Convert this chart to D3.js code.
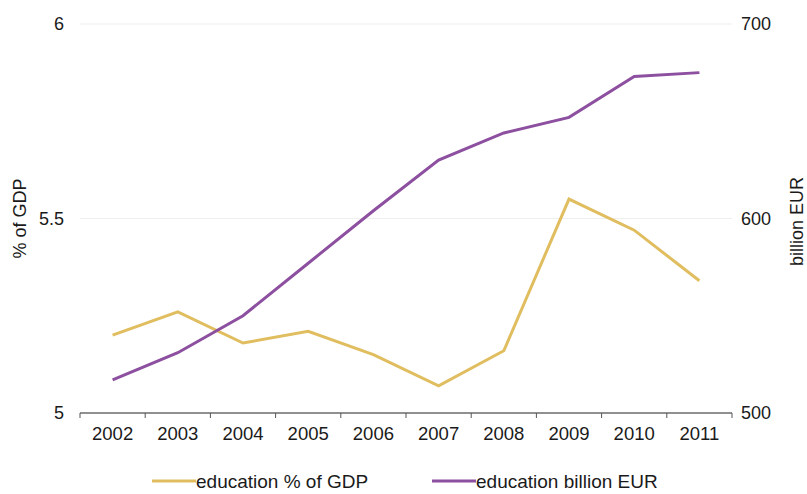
<!DOCTYPE html>
<html>
<head>
<meta charset="utf-8">
<script src="https://cdn.jsdelivr.net/npm/d3@7"></script>
<style>
  body { margin: 0; background: #fff; }
  svg text { font-family: "Liberation Sans", Arial, sans-serif; fill: #1a1a1a; }
</style>
</head>
<body>
<div id="chart"></div>
<script>
// Data
const years = ['2002', '2003', '2004', '2005', '2006', '2007', '2008', '2009', '2010', '2011'];
const pctGdp = [5.20, 5.26, 5.18, 5.21, 5.15, 5.07, 5.16, 5.55, 5.47, 5.34];
const billionEur = [517, 531, 550, 577, 604, 630, 644, 652, 673, 675];
const leftTicks = [5, 5.5, 6];
const rightTicks = [500, 600, 700];

const W = 807, H = 494;
const margin = { top: 24, right: 75, bottom: 81, left: 80 };
const width = W - margin.left - margin.right;
const height = H - margin.top - margin.bottom;

const gold = '#E0BD5F';
const purple = '#8D4F9F';

const svg = d3.select('#chart')
    .append('svg')
    .attr('width', W)
    .attr('height', H)
    .append('g')
    .attr('transform', `translate(${margin.left},${margin.top})`);

// Scales
const x = d3.scaleBand().domain(years).range([0, width]);
const yLeft = d3.scaleLinear().domain([5, 6]).range([height, 0]);
const yRight = d3.scaleLinear().domain([500, 700]).range([height, 0]);

// Faint gridlines
svg.append('g')
    .selectAll('line')
    .data(leftTicks.filter(d => d !== 5))
    .enter()
    .append('line')
    .attr('x1', 0)
    .attr('x2', width)
    .attr('y1', d => yLeft(d))
    .attr('y2', d => yLeft(d))
    .style('stroke', '#efefef')
    .style('stroke-width', 1);

// Left axis (labels only)
const leftAxis = svg.append('g')
    .call(d3.axisLeft(yLeft).tickValues(leftTicks).tickSize(0).tickPadding(16).tickFormat(d3.format('')));
leftAxis.select('.domain').remove();
leftAxis.selectAll('text').style('font-size', '18px');

// Right axis (labels only)
const rightAxis = svg.append('g')
    .attr('transform', `translate(${width},0)`)
    .call(d3.axisRight(yRight).tickValues(rightTicks).tickSize(0).tickPadding(9));
rightAxis.select('.domain').remove();
rightAxis.selectAll('text').style('font-size', '18px');

// Bottom axis with ticks at category boundaries
const xAxis = svg.append('g')
    .attr('transform', `translate(0,${height})`)
    .call(d3.axisBottom(x).tickSize(0).tickPadding(14));
xAxis.select('.domain').remove();
xAxis.selectAll('text').style('font-size', '18.5px');

svg.append('line')
    .attr('x1', 0).attr('x2', width)
    .attr('y1', height).attr('y2', height)
    .style('stroke', '#222').style('stroke-width', 1.2);

svg.append('g')
    .selectAll('line')
    .data(years.concat(['end']))
    .enter()
    .append('line')
    .attr('x1', (d, i) => i * x.step())
    .attr('x2', (d, i) => i * x.step())
    .attr('y1', height)
    .attr('y2', height + 5)
    .style('stroke', '#555')
    .style('stroke-width', 1);

// Lines
const goldLine = d3.line()
    .x((d, i) => x(years[i]) + x.bandwidth() / 2)
    .y(d => yLeft(d));

const purpleLine = d3.line()
    .x((d, i) => x(years[i]) + x.bandwidth() / 2)
    .y(d => yRight(d));

svg.append('path')
    .datum(pctGdp)
    .attr('d', goldLine)
    .style('fill', 'none')
    .style('stroke', gold)
    .style('stroke-width', 3);

svg.append('path')
    .datum(billionEur)
    .attr('d', purpleLine)
    .style('fill', 'none')
    .style('stroke', purple)
    .style('stroke-width', 3);

// Axis titles
svg.append('text')
    .attr('transform', `translate(${-54},${height / 2}) rotate(-90)`)
    .attr('text-anchor', 'middle')
    .style('font-size', '18px')
    .text('% of GDP');

svg.append('text')
    .attr('transform', `translate(${width + 71},${height / 2 + 3}) rotate(-90)`)
    .attr('text-anchor', 'middle')
    .style('font-size', '18px')
    .text('billion EUR');

// Legend
const legend = svg.append('g')
    .attr('transform', `translate(0,${height + 68})`);

const items = [
    { label: 'education % of GDP', color: gold, x: 72 },
    { label: 'education billion EUR', color: purple, x: 352 }
];

items.forEach(it => {
    legend.append('line')
        .attr('x1', it.x).attr('x2', it.x + 44)
        .attr('y1', 0).attr('y2', 0)
        .style('stroke', it.color)
        .style('stroke-width', 3);
    legend.append('text')
        .attr('x', it.x + 44)
        .attr('y', 7)
        .style('font-size', '19px')
        .text(it.label);
});
</script>
</body>
</html>
